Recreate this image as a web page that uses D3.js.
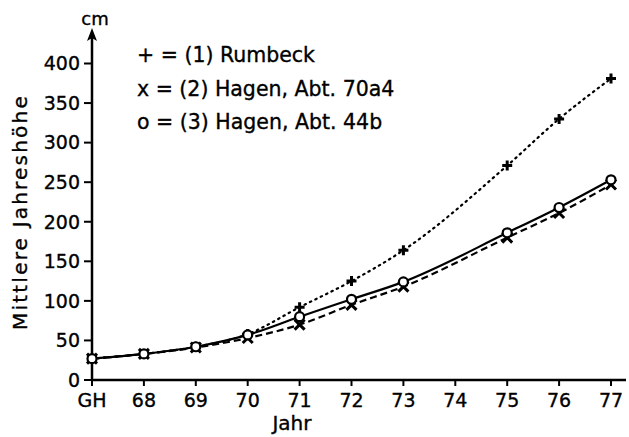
<!DOCTYPE html>
<html><head><meta charset="utf-8">
<script src="https://cdn.jsdelivr.net/npm/d3@7"></script>
<style>
html,body{margin:0;padding:0;background:#fff;}
svg{display:block;}
text{font-family:"DejaVu Sans",sans-serif;fill:#000;stroke:#000;stroke-width:0.35px;}
</style></head>
<body>
<svg id="c" width="629" height="437"></svg>
<script>
const categories = ["GH","68","69","70","71","72","73","74","75","76","77"];
const yTicks = [0,50,100,150,200,250,300,350,400];
const rumbeck   = [27, 33, 42, 58, 92, 125, 164, null, 271, 330, 381];
const hagen70a4 = [27, 33, 41, 53, 70, 95, 118, null, 180, 211, 247];
const hagen44b  = [27, 33, 42, 57, 80, 102, 124, null, 186, 218, 253];
const legendLabels = ["+ = (1) Rumbeck", "x = (2) Hagen, Abt. 70a4", "o = (3) Hagen, Abt. 44b"];

const svg = d3.select("#c");
const x = d3.scalePoint().domain(categories).range([92, 611]);
const y = d3.scaleLinear().domain([0, 400]).range([380, 63.5]);

// axes
svg.append("line").attr("x1", 92).attr("x2", 626).attr("y1", y(0)).attr("y2", y(0))
  .attr("stroke", "#000").attr("stroke-width", 2.5);
svg.append("line").attr("x1", 92).attr("x2", 92).attr("y1", y(0)+1).attr("y2", 34)
  .attr("stroke", "#000").attr("stroke-width", 2.5);
svg.append("path").attr("d", "M92,28 L87,41 L92,38 L97,41 Z").attr("fill", "#000");
svg.append("text").attr("x", 95).attr("y", 25).attr("text-anchor", "middle")
  .attr("font-size", 18).text("cm");

// y ticks
const yg = svg.append("g");
yTicks.forEach(v => {
  yg.append("line").attr("x1", 84).attr("x2", 92).attr("y1", y(v)).attr("y2", y(v))
    .attr("stroke", "#000").attr("stroke-width", 2);
  yg.append("text").attr("x", 80).attr("y", y(v)).attr("dy", "0.36em")
    .attr("text-anchor", "end").attr("font-size", 19).text(v);
});
// x ticks
const xg = svg.append("g");
categories.forEach(c => {
  xg.append("line").attr("x1", x(c)).attr("x2", x(c)).attr("y1", y(0)).attr("y2", y(0)+6)
    .attr("stroke", "#000").attr("stroke-width", 2);
  xg.append("text").attr("x", x(c)).attr("y", 407).attr("text-anchor", "middle")
    .attr("font-size", 19).text(c);
});
svg.append("text").attr("x", 292).attr("y", 430).attr("text-anchor", "middle")
  .attr("font-size", 20).text("Jahr");
svg.append("text").attr("transform", "translate(27,212) rotate(-90)")
  .attr("text-anchor", "middle").attr("font-size", 20).attr("letter-spacing", 2.2)
  .text("Mittlere  Jahreshöhe");

// legend
legendLabels.forEach((t, i) => {
  svg.append("text").attr("x", 137).attr("y", 62 + i*33.5).attr("font-size", 20.5).text(t);
});

// lines
const line = d3.line()
  .defined(d => d.v !== null)
  .x(d => x(d.c)).y(d => y(d.v))
  .curve(d3.curveMonotoneX);
function pts(arr){ return categories.map((c,i)=>({c, v: arr[i]})).filter(d=>d.v!==null); }

svg.append("path").datum(pts(rumbeck)).attr("d", line).attr("fill","none")
  .attr("stroke","#000").attr("stroke-width",2.2).attr("stroke-dasharray","1.5,4.5").attr("stroke-linecap","round");
svg.append("path").datum(pts(hagen70a4)).attr("d", line).attr("fill","none")
  .attr("stroke","#000").attr("stroke-width",2.2).attr("stroke-dasharray","7,4");
svg.append("path").datum(pts(hagen44b)).attr("d", line).attr("fill","none")
  .attr("stroke","#000").attr("stroke-width",2.2);

// markers
pts(rumbeck).forEach(d => {
  const cx = x(d.c), cy = y(d.v);
  svg.append("path").attr("d", `M${cx-5},${cy}H${cx+5}M${cx},${cy-5}V${cy+5}`)
    .attr("stroke","#000").attr("stroke-width",3);
});
pts(hagen70a4).forEach(d => {
  const cx = x(d.c), cy = y(d.v);
  svg.append("path").attr("d", `M${cx-5},${cy-5}L${cx+5},${cy+5}M${cx+5},${cy-5}L${cx-5},${cy+5}`)
    .attr("stroke","#000").attr("stroke-width",3);
});
pts(hagen44b).forEach(d => {
  svg.append("circle").attr("cx", x(d.c)).attr("cy", y(d.v)).attr("r", 4.5)
    .attr("fill","#fff").attr("stroke","#000").attr("stroke-width",2.2);
});
</script>
</body></html>
